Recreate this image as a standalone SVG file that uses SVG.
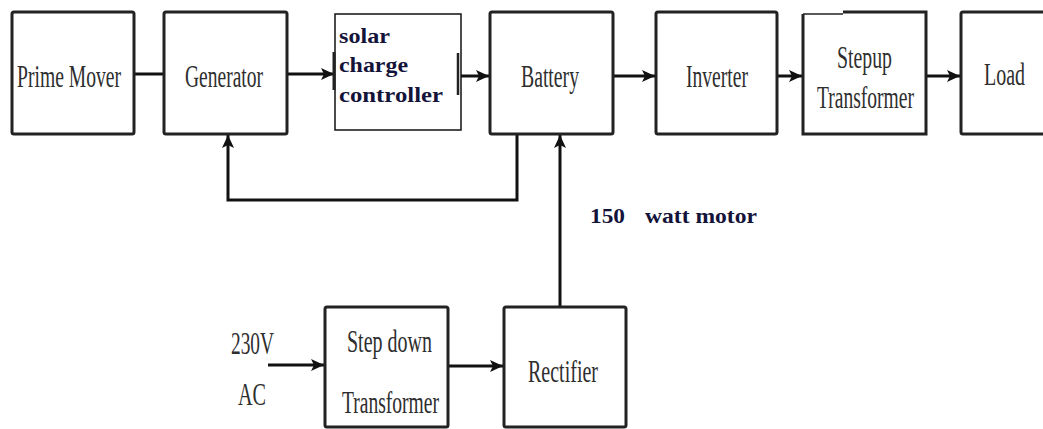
<svg xmlns="http://www.w3.org/2000/svg" width="1043" height="429" viewBox="0 0 1043 429">
<style>
.box{fill:#fff;stroke:#222;stroke-width:3}
.thin{fill:#fff;stroke:#111;stroke-width:1.5}
.t{font-family:"Liberation Serif","Times New Roman",serif;fill:#2e2e2e;font-size:32px}
.b{font-family:"Liberation Serif","Times New Roman",serif;font-weight:bold;fill:#14143a;font-size:22px}
.c{fill:none;stroke:#111;stroke-width:3}
</style>
<defs>
<marker id="ah" markerUnits="userSpaceOnUse" markerWidth="14" markerHeight="14" viewBox="0 0 14 14" refX="13" refY="7" orient="auto">
<path d="M0,1 L13,7 L0,13 L3,7 Z" fill="#111"/>
</marker>
</defs>
<rect width="1043" height="429" fill="#fff"/>
<g id="connectors">
<line class="c" x1="134" y1="74" x2="164" y2="74"/>
<line class="c" x1="287" y1="74" x2="334" y2="74" marker-end="url(#ah)"/>
<line class="c" x1="461" y1="76" x2="489" y2="76" marker-end="url(#ah)"/>
<line class="c" x1="613" y1="76" x2="655" y2="76" marker-end="url(#ah)"/>
<line class="c" x1="777" y1="76" x2="802" y2="76" marker-end="url(#ah)"/>
<line class="c" x1="926" y1="76" x2="960" y2="76" marker-end="url(#ah)"/>
<polyline class="c" points="517,134 517,200 228,200 228,135" marker-end="url(#ah)"/>
<line class="c" x1="560" y1="307" x2="560" y2="135" marker-end="url(#ah)"/>
<line class="c" x1="268" y1="365" x2="324" y2="365" marker-end="url(#ah)"/>
<line class="c" x1="448" y1="366" x2="503" y2="366" marker-end="url(#ah)"/>
</g>
<g id="prime-mover">
<rect class="box" x="12" y="12" width="122" height="122" rx="2"/>
<text class="t" x="17" y="87" textLength="104" lengthAdjust="spacingAndGlyphs">Prime Mover</text>
</g>
<g id="generator">
<rect class="box" x="164" y="12" width="123" height="122" rx="2"/>
<text class="t" x="185" y="87" textLength="78" lengthAdjust="spacingAndGlyphs">Generator</text>
</g>
<g id="solar-charge-controller">
<rect class="thin" x="335" y="14" width="126" height="116"/>
<line x1="334" y1="52" x2="334" y2="90" stroke="#222" stroke-width="3"/>
<line x1="458" y1="53" x2="458" y2="95" stroke="#222" stroke-width="2.5"/>
<text class="b" x="339" y="43" textLength="51" lengthAdjust="spacingAndGlyphs">solar</text>
<text class="b" x="339" y="72" textLength="69" lengthAdjust="spacingAndGlyphs">charge</text>
<text class="b" x="339" y="102" textLength="104" lengthAdjust="spacingAndGlyphs">controller</text>
</g>
<g id="battery">
<rect class="box" x="490" y="12" width="123" height="122" rx="2"/>
<text class="t" x="521" y="87" textLength="58" lengthAdjust="spacingAndGlyphs">Battery</text>
</g>
<g id="inverter">
<rect class="box" x="656" y="12" width="121" height="122" rx="2"/>
<text class="t" x="686" y="87" textLength="62" lengthAdjust="spacingAndGlyphs">Inverter</text>
</g>
<g id="stepup-transformer">
<path d="M843,12 L926,12 L926,134 L803,134 L803,14" fill="#fff" stroke="#222" stroke-width="3"/>
<line x1="803" y1="14" x2="843" y2="14" stroke="#222" stroke-width="1.5"/>
<text class="t" x="837" y="68" font-size="30" textLength="55" lengthAdjust="spacingAndGlyphs">Stepup</text>
<text class="t" x="817" y="108" font-size="30" textLength="97" lengthAdjust="spacingAndGlyphs">Transformer</text>
</g>
<g id="load">
<rect class="box" x="961" y="12" width="130" height="122" rx="2"/>
<text class="t" x="984" y="85" textLength="41" lengthAdjust="spacingAndGlyphs">Load</text>
</g>
<g id="step-down-transformer">
<rect class="box" x="325" y="307" width="123" height="120" rx="2"/>
<text class="t" x="347" y="352" font-size="33" textLength="85" lengthAdjust="spacingAndGlyphs">Step down</text>
<text class="t" x="342" y="413" font-size="33" textLength="97" lengthAdjust="spacingAndGlyphs">Transformer</text>
</g>
<g id="rectifier">
<rect class="box" x="504" y="307" width="122" height="120" rx="2"/>
<text class="t" x="528" y="382" font-size="33" textLength="70" lengthAdjust="spacingAndGlyphs">Rectifier</text>
</g>
<g id="ac-input">
<text class="t" x="231" y="354" font-size="34" textLength="43" lengthAdjust="spacingAndGlyphs">230V</text>
<text class="t" x="238" y="405" font-size="34" textLength="28" lengthAdjust="spacingAndGlyphs">AC</text>
</g>
<g id="motor-label">
<text class="b" x="590" y="223" font-size="23" textLength="35" lengthAdjust="spacingAndGlyphs">150</text>
<text class="b" x="645" y="223" font-size="23" textLength="112" lengthAdjust="spacingAndGlyphs">watt motor</text>
</g>
</svg>
